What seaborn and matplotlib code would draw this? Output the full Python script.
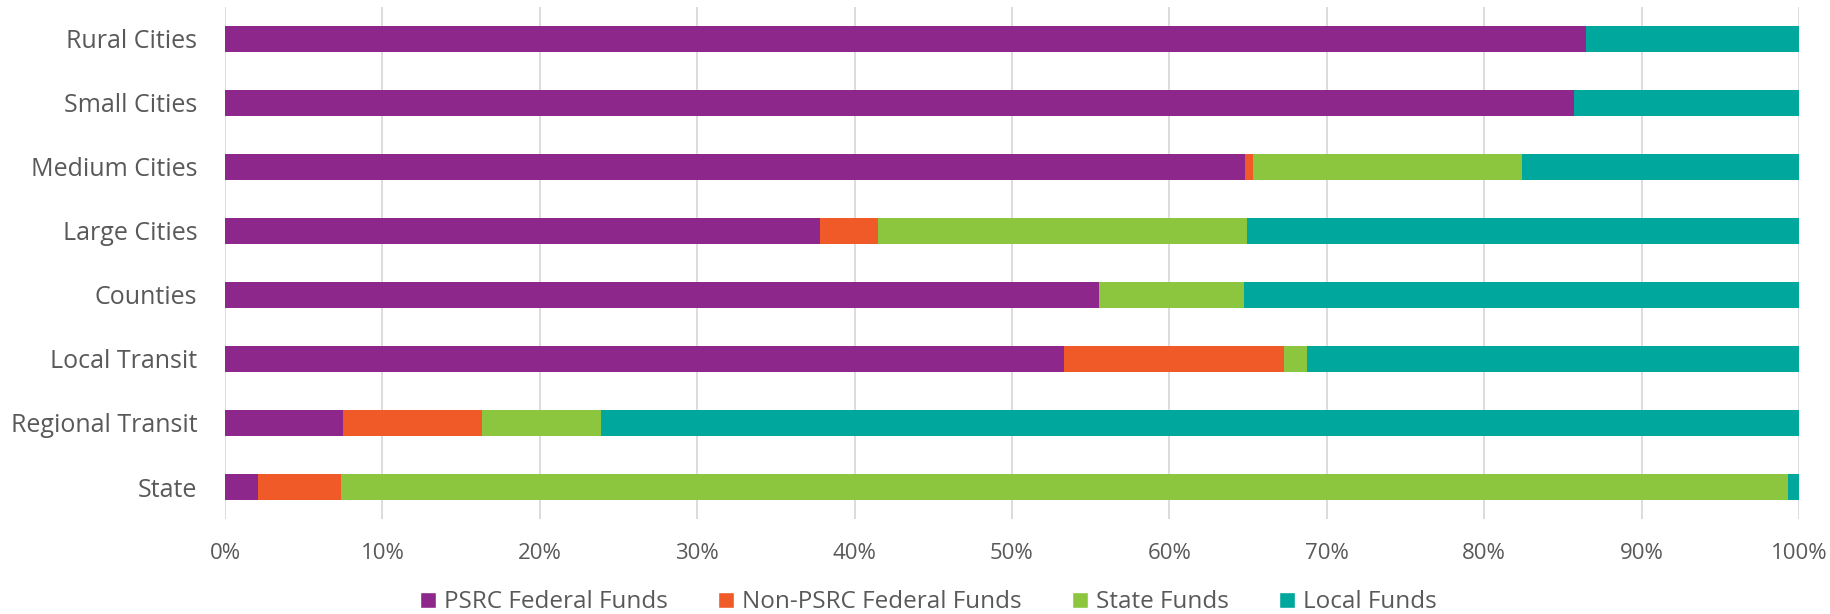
import numpy as np
import pandas as pd
import seaborn as sns
import matplotlib.pyplot as plt
from matplotlib.patches import Patch
from matplotlib.ticker import FuncFormatter

categories = ["Rural Cities", "Small Cities", "Medium Cities", "Large Cities",
              "Counties", "Local Transit", "Regional Transit", "State"]
psrc_federal = [86.5, 85.7, 64.8, 37.8, 55.5, 53.3, 7.5, 2.1]
non_psrc_federal = [0.0, 0.0, 0.5, 3.7, 0.0, 14.0, 8.8, 5.25]
state_funds = [0.0, 0.0, 17.1, 23.4, 9.25, 1.45, 7.6, 91.95]
local_funds = [13.5, 14.3, 17.6, 35.1, 35.25, 31.25, 76.1, 0.7]

series_names = ["PSRC Federal Funds", "Non-PSRC Federal Funds", "State Funds", "Local Funds"]
colors = ["#8E278B", "#F05A28", "#8CC63F", "#00A79D"]

sns.set_style("white")
plt.rcParams['font.family'] = ['Open Sans', 'DejaVu Sans']

fig = plt.figure(figsize=(18.31, 6.14), dpi=100)
ax = fig.add_axes([0.1229, 0.1547, 0.8596, 0.834])

vals = np.array([psrc_federal, non_psrc_federal, state_funds, local_funds])
cum = np.cumsum(vals, axis=0)

# draw totals first, then overlay shorter cumulative bars
for i in range(3, -1, -1):
    df = pd.DataFrame({"category": categories, "value": cum[i]})
    sns.barplot(data=df, x="value", y="category", order=categories, color=colors[i],
                width=0.41, orient="h", saturation=1, ax=ax, linewidth=0)

ax.set_xlim(0, 100)
ax.set_ylim(7.5, -0.5)
ax.set_xticks(np.arange(0, 101, 10))
ax.xaxis.set_major_formatter(FuncFormatter(lambda v, p: f"{int(v)}%"))
ax.grid(axis="x", color="#D9D9D9", linewidth=1.3)
ax.set_axisbelow(True)
for s in ax.spines.values():
    s.set_visible(False)
ax.set_xlabel("")
ax.set_ylabel("")
ax.tick_params(axis="x", length=0, pad=17, labelsize=16, labelcolor="#595959")
ax.tick_params(axis="y", length=0, pad=20, labelsize=18, labelcolor="#595959")

handles = [Patch(facecolor=c, label=n) for c, n in zip(colors, series_names)]
fig.legend(handles=handles, loc="center", bbox_to_anchor=(0.507, 0.019), ncol=4,
           frameon=False, fontsize=17.5, labelcolor="#595959", handlelength=0.66,
           handleheight=0.66, handletextpad=0.34, columnspacing=2.05,
           borderpad=0, borderaxespad=0)

fig.savefig("out.png", dpi=100)
